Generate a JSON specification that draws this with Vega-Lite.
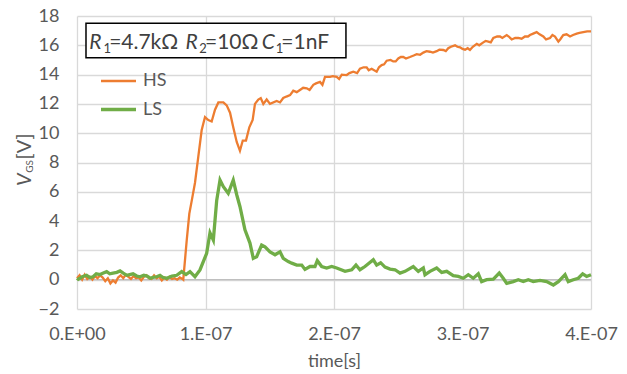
{
  "$schema": "https://vega.github.io/schema/vega-lite/v6.json",
  "width": 514,
  "height": 293,
  "autosize": {"type": "none"},
  "padding": {"left": 77, "top": 16, "right": 36, "bottom": 65},
  "background": "white",
  "config": {
    "font": "Lato",
    "view": {"stroke": null},
    "axis": {
      "grid": true,
      "gridColor": "#d9d9d9",
      "gridWidth": 1.3,
      "domain": false,
      "ticks": false,
      "tickSize": 0,
      "labelFont": "Lato",
      "labelFontSize": 18,
      "labelColor": "#595959",
      "titleFont": "Lato",
      "titleFontSize": 18,
      "titleFontWeight": "normal",
      "titleColor": "#595959"
    },
    "legend": {
      "orient": "none",
      "legendX": 22,
      "legendY": 46,
      "symbolType": "stroke",
      "symbolSize": 1225,
      "labelFont": "Lato",
      "labelFontSize": 18,
      "labelColor": "#595959",
      "labelOffset": 5,
      "rowPadding": -1
    }
  },
  "datasets": {
    "wave": [
      {"s": "HS", "t": 0, "v": 0.1}, {"s": "HS", "t": 2, "v": 0.3}, {"s": "HS", "t": 4, "v": 0.0}, {"s": "HS", "t": 6, "v": 0.35}, {"s": "HS", "t": 8, "v": 0.05},
      {"s": "HS", "t": 10, "v": 0.2}, {"s": "HS", "t": 12, "v": 0.0}, {"s": "HS", "t": 14, "v": 0.25}, {"s": "HS", "t": 16, "v": 0.1}, {"s": "HS", "t": 18, "v": 0.3},
      {"s": "HS", "t": 20, "v": 0.15}, {"s": "HS", "t": 22, "v": -0.1}, {"s": "HS", "t": 24, "v": 0.1}, {"s": "HS", "t": 26, "v": -0.25}, {"s": "HS", "t": 28, "v": -0.05},
      {"s": "HS", "t": 30, "v": -0.2}, {"s": "HS", "t": 32, "v": 0.15}, {"s": "HS", "t": 34, "v": 0.3}, {"s": "HS", "t": 36, "v": 0.1}, {"s": "HS", "t": 38, "v": 0.35},
      {"s": "HS", "t": 40, "v": 0.2}, {"s": "HS", "t": 42, "v": 0.05}, {"s": "HS", "t": 44, "v": 0.25}, {"s": "HS", "t": 46, "v": 0.1}, {"s": "HS", "t": 48, "v": 0.15},
      {"s": "HS", "t": 50, "v": -0.05}, {"s": "HS", "t": 52, "v": 0.2}, {"s": "HS", "t": 54, "v": 0.3}, {"s": "HS", "t": 56, "v": 0.1}, {"s": "HS", "t": 58, "v": 0.05},
      {"s": "HS", "t": 60, "v": 0.3}, {"s": "HS", "t": 62, "v": 0.1}, {"s": "HS", "t": 64, "v": 0.2}, {"s": "HS", "t": 66, "v": -0.05}, {"s": "HS", "t": 68, "v": 0.15},
      {"s": "HS", "t": 70, "v": 0.0}, {"s": "HS", "t": 72, "v": 0.2}, {"s": "HS", "t": 74, "v": 0.05}, {"s": "HS", "t": 76, "v": 0.1}, {"s": "HS", "t": 78, "v": 0.0},
      {"s": "HS", "t": 80, "v": 0.15}, {"s": "HS", "t": 82, "v": 0.05},
      {"s": "HS", "t": 82.7, "v": 0.0}, {"s": "HS", "t": 85.4, "v": 2.7}, {"s": "HS", "t": 87.4, "v": 4.5}, {"s": "HS", "t": 89.3, "v": 5.4}, {"s": "HS", "t": 91.8, "v": 6.6},
      {"s": "HS", "t": 94.4, "v": 8.4}, {"s": "HS", "t": 97.0, "v": 10.2}, {"s": "HS", "t": 99.6, "v": 11.1}, {"s": "HS", "t": 102.2, "v": 10.9}, {"s": "HS", "t": 104.8, "v": 10.8},
      {"s": "HS", "t": 107.4, "v": 11.6}, {"s": "HS", "t": 110.0, "v": 12.1}, {"s": "HS", "t": 113.9, "v": 12.1}, {"s": "HS", "t": 116.5, "v": 11.9}, {"s": "HS", "t": 119.1, "v": 11.4},
      {"s": "HS", "t": 121.6, "v": 10.4}, {"s": "HS", "t": 124.3, "v": 9.4}, {"s": "HS", "t": 126.8, "v": 8.8}, {"s": "HS", "t": 129.0, "v": 9.5}, {"s": "HS", "t": 131.5, "v": 9.5},
      {"s": "HS", "t": 134.1, "v": 10.4}, {"s": "HS", "t": 136.7, "v": 10.9}, {"s": "HS", "t": 138.5, "v": 12.0}, {"s": "HS", "t": 141.1, "v": 12.3}, {"s": "HS", "t": 143.0, "v": 12.4},
      {"s": "HS", "t": 145.0, "v": 12.0}, {"s": "HS", "t": 147.6, "v": 12.3}, {"s": "HS", "t": 150.2, "v": 12.0}, {"s": "HS", "t": 155.4, "v": 12.2}, {"s": "HS", "t": 158, "v": 12.1},
      {"s": "HS", "t": 160.5, "v": 12.4}, {"s": "HS", "t": 163, "v": 12.5}, {"s": "HS", "t": 165.8, "v": 12.6}, {"s": "HS", "t": 168.3, "v": 12.9}, {"s": "HS", "t": 171, "v": 12.8},
      {"s": "HS", "t": 173.5, "v": 12.95}, {"s": "HS", "t": 176, "v": 13.1}, {"s": "HS", "t": 178.8, "v": 13.06}, {"s": "HS", "t": 181, "v": 12.95}, {"s": "HS", "t": 183.9, "v": 13.3},
      {"s": "HS", "t": 186, "v": 13.4}, {"s": "HS", "t": 189.1, "v": 13.5}, {"s": "HS", "t": 191, "v": 13.3}, {"s": "HS", "t": 193.0, "v": 13.85}, {"s": "HS", "t": 196.9, "v": 13.85},
      {"s": "HS", "t": 199, "v": 13.9}, {"s": "HS", "t": 202.1, "v": 13.85}, {"s": "HS", "t": 204, "v": 13.7}, {"s": "HS", "t": 206.0, "v": 14.0}, {"s": "HS", "t": 209.9, "v": 13.97},
      {"s": "HS", "t": 212, "v": 14.1}, {"s": "HS", "t": 215.0, "v": 14.2}, {"s": "HS", "t": 218, "v": 14.1}, {"s": "HS", "t": 220.2, "v": 14.4}, {"s": "HS", "t": 223, "v": 14.5},
      {"s": "HS", "t": 225.4, "v": 14.5}, {"s": "HS", "t": 227, "v": 14.3}, {"s": "HS", "t": 229.3, "v": 14.4}, {"s": "HS", "t": 233.2, "v": 14.2}, {"s": "HS", "t": 235, "v": 14.5},
      {"s": "HS", "t": 237.1, "v": 14.65}, {"s": "HS", "t": 239, "v": 14.7}, {"s": "HS", "t": 241.0, "v": 14.95}, {"s": "HS", "t": 244, "v": 15.0}, {"s": "HS", "t": 246.1, "v": 14.9},
      {"s": "HS", "t": 248, "v": 14.9}, {"s": "HS", "t": 250.0, "v": 15.1}, {"s": "HS", "t": 252, "v": 15.2}, {"s": "HS", "t": 253.9, "v": 15.2}, {"s": "HS", "t": 256, "v": 15.1},
      {"s": "HS", "t": 259.1, "v": 15.2}, {"s": "HS", "t": 262, "v": 15.3}, {"s": "HS", "t": 264.4, "v": 15.4}, {"s": "HS", "t": 267, "v": 15.35}, {"s": "HS", "t": 269.5, "v": 15.5},
      {"s": "HS", "t": 272, "v": 15.6}, {"s": "HS", "t": 274.7, "v": 15.56}, {"s": "HS", "t": 277, "v": 15.5}, {"s": "HS", "t": 279.9, "v": 15.6}, {"s": "HS", "t": 282, "v": 15.7},
      {"s": "HS", "t": 285.1, "v": 15.68}, {"s": "HS", "t": 287, "v": 15.6}, {"s": "HS", "t": 288.9, "v": 15.8}, {"s": "HS", "t": 291, "v": 15.9}, {"s": "HS", "t": 294.2, "v": 16.0},
      {"s": "HS", "t": 296, "v": 15.9}, {"s": "HS", "t": 298.1, "v": 15.86}, {"s": "HS", "t": 300, "v": 15.75}, {"s": "HS", "t": 302.0, "v": 15.7}, {"s": "HS", "t": 304, "v": 15.8},
      {"s": "HS", "t": 305.8, "v": 15.68}, {"s": "HS", "t": 308, "v": 15.9}, {"s": "HS", "t": 311.1, "v": 16.1}, {"s": "HS", "t": 313, "v": 16.0}, {"s": "HS", "t": 316.2, "v": 16.2},
      {"s": "HS", "t": 318, "v": 16.3}, {"s": "HS", "t": 320.1, "v": 16.25}, {"s": "HS", "t": 322, "v": 16.2}, {"s": "HS", "t": 324.0, "v": 16.5}, {"s": "HS", "t": 327, "v": 16.6},
      {"s": "HS", "t": 329.2, "v": 16.6}, {"s": "HS", "t": 331, "v": 16.5}, {"s": "HS", "t": 334.4, "v": 16.7}, {"s": "HS", "t": 336, "v": 16.6}, {"s": "HS", "t": 338.3, "v": 16.4},
      {"s": "HS", "t": 341, "v": 16.5}, {"s": "HS", "t": 343.4, "v": 16.5}, {"s": "HS", "t": 346, "v": 16.45}, {"s": "HS", "t": 348.6, "v": 16.6}, {"s": "HS", "t": 351, "v": 16.6},
      {"s": "HS", "t": 352.5, "v": 16.7}, {"s": "HS", "t": 355, "v": 16.8}, {"s": "HS", "t": 357.7, "v": 16.9}, {"s": "HS", "t": 360, "v": 16.75}, {"s": "HS", "t": 362.9, "v": 16.6},
      {"s": "HS", "t": 365, "v": 16.4}, {"s": "HS", "t": 368.1, "v": 16.5}, {"s": "HS", "t": 370, "v": 16.7}, {"s": "HS", "t": 372.0, "v": 16.6}, {"s": "HS", "t": 374.6, "v": 16.25},
      {"s": "HS", "t": 376, "v": 16.4}, {"s": "HS", "t": 378.4, "v": 16.7}, {"s": "HS", "t": 381, "v": 16.75}, {"s": "HS", "t": 383.7, "v": 16.6}, {"s": "HS", "t": 386, "v": 16.7},
      {"s": "HS", "t": 388.9, "v": 16.8}, {"s": "HS", "t": 391, "v": 16.85}, {"s": "HS", "t": 394.0, "v": 16.9}, {"s": "HS", "t": 397, "v": 16.95}, {"s": "HS", "t": 400, "v": 16.95},
      {"s": "LS", "t": 0, "v": 0.1}, {"s": "LS", "t": 1.0, "v": 0.03}, {"s": "LS", "t": 4, "v": 0.2}, {"s": "LS", "t": 7.5, "v": 0.3}, {"s": "LS", "t": 10, "v": 0.15},
      {"s": "LS", "t": 12.5, "v": 0.2}, {"s": "LS", "t": 15, "v": 0.4}, {"s": "LS", "t": 17.9, "v": 0.35}, {"s": "LS", "t": 20.5, "v": 0.45}, {"s": "LS", "t": 23.1, "v": 0.55},
      {"s": "LS", "t": 25.5, "v": 0.4}, {"s": "LS", "t": 28, "v": 0.45}, {"s": "LS", "t": 31, "v": 0.5}, {"s": "LS", "t": 33.5, "v": 0.6}, {"s": "LS", "t": 36, "v": 0.45},
      {"s": "LS", "t": 38.7, "v": 0.3}, {"s": "LS", "t": 41, "v": 0.35}, {"s": "LS", "t": 43.6, "v": 0.4}, {"s": "LS", "t": 46.5, "v": 0.25}, {"s": "LS", "t": 49.0, "v": 0.2},
      {"s": "LS", "t": 52, "v": 0.3}, {"s": "LS", "t": 54.5, "v": 0.25}, {"s": "LS", "t": 57, "v": 0.1}, {"s": "LS", "t": 59.1, "v": 0.16}, {"s": "LS", "t": 62, "v": 0.2},
      {"s": "LS", "t": 64.6, "v": 0.3}, {"s": "LS", "t": 67, "v": 0.15}, {"s": "LS", "t": 69.8, "v": 0.1}, {"s": "LS", "t": 73.9, "v": 0.25}, {"s": "LS", "t": 77.6, "v": 0.3},
      {"s": "LS", "t": 81.5, "v": 0.55}, {"s": "LS", "t": 84.8, "v": 0.35}, {"s": "LS", "t": 87.9, "v": 0.55}, {"s": "LS", "t": 91.8, "v": 0.2}, {"s": "LS", "t": 95.7, "v": 0.67},
      {"s": "LS", "t": 100.9, "v": 1.8}, {"s": "LS", "t": 103.5, "v": 3.2}, {"s": "LS", "t": 106.1, "v": 2.7}, {"s": "LS", "t": 108.7, "v": 5.4}, {"s": "LS", "t": 111.3, "v": 6.8},
      {"s": "LS", "t": 113.9, "v": 6.35}, {"s": "LS", "t": 117.7, "v": 5.9}, {"s": "LS", "t": 121.6, "v": 6.8}, {"s": "LS", "t": 124.3, "v": 5.8}, {"s": "LS", "t": 126.8, "v": 5.0},
      {"s": "LS", "t": 130.7, "v": 3.4}, {"s": "LS", "t": 134.6, "v": 2.5}, {"s": "LS", "t": 137.2, "v": 1.46}, {"s": "LS", "t": 139.8, "v": 1.57}, {"s": "LS", "t": 143.7, "v": 2.37},
      {"s": "LS", "t": 146.3, "v": 2.25}, {"s": "LS", "t": 150.2, "v": 1.9}, {"s": "LS", "t": 154.1, "v": 1.7}, {"s": "LS", "t": 158.0, "v": 1.9}, {"s": "LS", "t": 160.5, "v": 1.46},
      {"s": "LS", "t": 164.4, "v": 1.24}, {"s": "LS", "t": 167.1, "v": 1.13}, {"s": "LS", "t": 171.0, "v": 1.0}, {"s": "LS", "t": 174.9, "v": 1.0}, {"s": "LS", "t": 177.4, "v": 0.7},
      {"s": "LS", "t": 181.3, "v": 0.9}, {"s": "LS", "t": 185.2, "v": 0.9}, {"s": "LS", "t": 187.0, "v": 1.3}, {"s": "LS", "t": 190.4, "v": 0.9}, {"s": "LS", "t": 194.3, "v": 0.8},
      {"s": "LS", "t": 198.2, "v": 0.9}, {"s": "LS", "t": 202.1, "v": 0.8}, {"s": "LS", "t": 208.6, "v": 0.57}, {"s": "LS", "t": 213.8, "v": 0.68}, {"s": "LS", "t": 217.1, "v": 1.0},
      {"s": "LS", "t": 220.2, "v": 0.68}, {"s": "LS", "t": 224.1, "v": 0.9}, {"s": "LS", "t": 230.6, "v": 1.36}, {"s": "LS", "t": 233.2, "v": 1.0}, {"s": "LS", "t": 236.3, "v": 1.16},
      {"s": "LS", "t": 239.7, "v": 0.86}, {"s": "LS", "t": 243.6, "v": 0.72}, {"s": "LS", "t": 247.5, "v": 0.68}, {"s": "LS", "t": 251.4, "v": 0.45}, {"s": "LS", "t": 255.3, "v": 0.57},
      {"s": "LS", "t": 261.7, "v": 0.9}, {"s": "LS", "t": 265.6, "v": 0.57}, {"s": "LS", "t": 269.5, "v": 0.8}, {"s": "LS", "t": 270.8, "v": 0.34}, {"s": "LS", "t": 274.7, "v": 0.57},
      {"s": "LS", "t": 279.9, "v": 0.8}, {"s": "LS", "t": 283.8, "v": 0.5}, {"s": "LS", "t": 287.7, "v": 0.57}, {"s": "LS", "t": 292.8, "v": 0.27}, {"s": "LS", "t": 296.7, "v": 0.22},
      {"s": "LS", "t": 300.6, "v": 0.1}, {"s": "LS", "t": 304.5, "v": 0.34}, {"s": "LS", "t": 308.4, "v": 0.1}, {"s": "LS", "t": 312.3, "v": 0.4}, {"s": "LS", "t": 314.9, "v": -0.13},
      {"s": "LS", "t": 318.8, "v": 0.0}, {"s": "LS", "t": 324.0, "v": 0.04}, {"s": "LS", "t": 328.6, "v": 0.45}, {"s": "LS", "t": 331.7, "v": 0.1}, {"s": "LS", "t": 334.4, "v": -0.25},
      {"s": "LS", "t": 339.5, "v": -0.13}, {"s": "LS", "t": 343.4, "v": 0.0}, {"s": "LS", "t": 347.3, "v": -0.13}, {"s": "LS", "t": 351.2, "v": 0.0}, {"s": "LS", "t": 355.1, "v": -0.13},
      {"s": "LS", "t": 360.3, "v": -0.05}, {"s": "LS", "t": 365.5, "v": -0.13}, {"s": "LS", "t": 370.7, "v": -0.36}, {"s": "LS", "t": 374.6, "v": -0.13}, {"s": "LS", "t": 379.8, "v": 0.34},
      {"s": "LS", "t": 382.3, "v": -0.13}, {"s": "LS", "t": 386.2, "v": 0.0}, {"s": "LS", "t": 390.1, "v": 0.1}, {"s": "LS", "t": 393.5, "v": 0.4}, {"s": "LS", "t": 396.6, "v": 0.22},
      {"s": "LS", "t": 400, "v": 0.34}
    ]
  },
  "encoding": {
    "x": {"type": "quantitative", "scale": {"domain": [0, 400], "nice": false, "zero": false},
      "axis": {"grid": true, "values": [0, 100, 200, 300, 400], "labelExpr": "datum.value == 0 ? '0.E+00' : (datum.value / 100) + '.E-07'", "title": "time[s]", "labelPadding": 16, "titlePadding": 9, "labelFlush": false}},
    "y": {"type": "quantitative", "scale": {"domain": [-2, 18], "nice": false, "zero": false},
      "axis": {"grid": true, "values": [-2, 0, 2, 4, 6, 8, 10, 12, 14, 16, 18], "title": null, "labelPadding": 18}}
  },
  "layer": [
    {
      "data": {"values": [{}]},
      "mark": {"type": "rule", "color": "#bfbfbf", "strokeWidth": 1.3},
      "encoding": {"x": {"datum": 0}, "x2": {"datum": 400}, "y": {"datum": 0}}
    },
    {
      "data": {"name": "wave"},
      "mark": {"type": "line", "interpolate": "linear"},
      "encoding": {
        "x": {"field": "t", "type": "quantitative", "title": "time[s]"},
        "y": {"field": "v", "type": "quantitative", "title": null},
        "color": {"field": "s", "type": "nominal", "scale": {"domain": ["HS", "LS"], "range": ["#ED7D31", "#70AD47"]}, "title": null},
        "strokeWidth": {"field": "s", "type": "nominal", "scale": {"domain": ["HS", "LS"], "range": [2.3, 3.3]}, "title": null}
      }
    },
    {
      "data": {"values": [{}]},
      "mark": {"type": "rect", "fill": "white", "stroke": "black", "strokeWidth": 1.5},
      "encoding": {"x": {"datum": 7}, "x2": {"datum": 209.3}, "y": {"datum": 17.5}, "y2": {"datum": 15.15}}
    },
    {
      "data": {"values": [{}]},
      "mark": {"type": "text", "align": "left", "baseline": "alphabetic", "fontSize": 21, "fontStyle": "italic", "color": "#404040"},
      "encoding": {"x": {"datum": 9.6}, "y": {"datum": 15.75}, "text": {"value": "R"}}
    },
    {
      "data": {"values": [{}]},
      "mark": {"type": "text", "align": "left", "baseline": "alphabetic", "fontSize": 13, "color": "#404040"},
      "encoding": {"x": {"datum": 20.6}, "y": {"datum": 15.5}, "text": {"value": "1"}}
    },
    {
      "data": {"values": [{}]},
      "mark": {"type": "text", "align": "left", "baseline": "alphabetic", "fontSize": 21, "color": "#404040"},
      "encoding": {"x": {"datum": 25.0}, "y": {"datum": 15.75}, "text": {"value": "=4.7kΩ"}}
    },
    {
      "data": {"values": [{}]},
      "mark": {"type": "text", "align": "left", "baseline": "alphabetic", "fontSize": 21, "fontStyle": "italic", "color": "#404040"},
      "encoding": {"x": {"datum": 84.4}, "y": {"datum": 15.75}, "text": {"value": "R"}}
    },
    {
      "data": {"values": [{}]},
      "mark": {"type": "text", "align": "left", "baseline": "alphabetic", "fontSize": 13, "color": "#404040"},
      "encoding": {"x": {"datum": 95.2}, "y": {"datum": 15.5}, "text": {"value": "2"}}
    },
    {
      "data": {"values": [{}]},
      "mark": {"type": "text", "align": "left", "baseline": "alphabetic", "fontSize": 21, "color": "#404040"},
      "encoding": {"x": {"datum": 99.6}, "y": {"datum": 15.75}, "text": {"value": "=10Ω"}}
    },
    {
      "data": {"values": [{}]},
      "mark": {"type": "text", "align": "left", "baseline": "alphabetic", "fontSize": 21, "fontStyle": "italic", "color": "#404040"},
      "encoding": {"x": {"datum": 143.8}, "y": {"datum": 15.75}, "text": {"value": "C"}}
    },
    {
      "data": {"values": [{}]},
      "mark": {"type": "text", "align": "left", "baseline": "alphabetic", "fontSize": 13, "color": "#404040"},
      "encoding": {"x": {"datum": 154.6}, "y": {"datum": 15.5}, "text": {"value": "1"}}
    },
    {
      "data": {"values": [{}]},
      "mark": {"type": "text", "align": "left", "baseline": "alphabetic", "fontSize": 21, "color": "#404040"},
      "encoding": {"x": {"datum": 159.0}, "y": {"datum": 15.75}, "text": {"value": "=1nF"}}
    },
    {
      "data": {"values": [{}]},
      "mark": {"type": "text", "align": "left", "baseline": "alphabetic", "fontSize": 20, "fontStyle": "italic", "angle": 270, "color": "#595959", "clip": false},
      "encoding": {"x": {"datum": -35.8}, "y": {"datum": 6.4}, "text": {"value": "V"}}
    },
    {
      "data": {"values": [{}]},
      "mark": {"type": "text", "align": "left", "baseline": "alphabetic", "fontSize": 10, "angle": 270, "color": "#595959", "clip": false},
      "encoding": {"x": {"datum": -34.0}, "y": {"datum": 7.3}, "text": {"value": "GS"}}
    },
    {
      "data": {"values": [{}]},
      "mark": {"type": "text", "align": "left", "baseline": "alphabetic", "fontSize": 20, "angle": 270, "color": "#595959", "clip": false},
      "encoding": {"x": {"datum": -35.8}, "y": {"datum": 8.2}, "text": {"value": "[V]"}}
    }
  ]
}
